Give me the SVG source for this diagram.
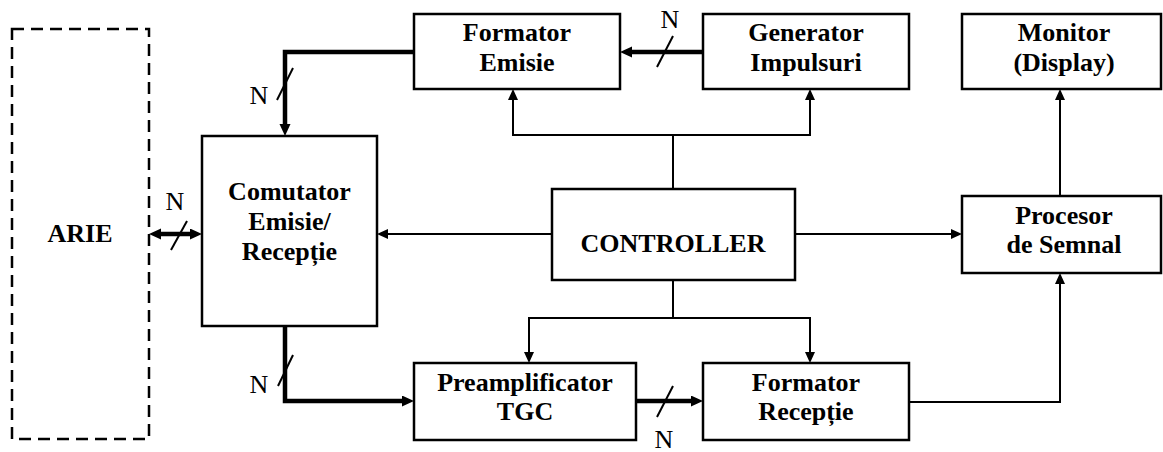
<svg xmlns="http://www.w3.org/2000/svg" width="1163" height="452" viewBox="0 0 1163 452">
  <style>
    .box { fill: #fff; stroke: #000; stroke-width: 2.5; }
    .dash { fill: none; stroke: #000; stroke-width: 2.5; stroke-dasharray: 12 7; }
    .lbl { font-family: "Liberation Serif", "Times New Roman", serif; font-weight: bold; font-size: 26px; text-anchor: middle; fill: #000; }
    .n { font-family: "Liberation Serif", "Times New Roman", serif; font-size: 26px; text-anchor: middle; fill: #000; }
    .bus { fill: none; stroke: #000; stroke-width: 4.5; }
    .wire { fill: none; stroke: #000; stroke-width: 2; }
    .slash { stroke: #000; stroke-width: 2; }
  </style>
  <defs>
    <marker id="ahBus" markerUnits="userSpaceOnUse" markerWidth="13" markerHeight="12" refX="4" refY="5.5" orient="auto-start-reverse">
      <path d="M0,0 L12,5.5 L0,11 z" fill="#000"/>
    </marker>
    <marker id="ahWire" markerUnits="userSpaceOnUse" markerWidth="12" markerHeight="11" refX="3" refY="5" orient="auto-start-reverse">
      <path d="M0,0 L11,5 L0,10 z" fill="#000"/>
    </marker>
  </defs>

  <g id="connectors">
    <!-- N-bit buses -->
    <path class="bus" d="M414,52 H285 V128" marker-end="url(#ahBus)"/>
    <path class="bus" d="M703,52 H628" marker-end="url(#ahBus)"/>
    <path class="bus" d="M157,234 H194" marker-start="url(#ahBus)" marker-end="url(#ahBus)"/>
    <path class="bus" d="M285,326 V401 H406" marker-end="url(#ahBus)"/>
    <path class="bus" d="M636,401 H695" marker-end="url(#ahBus)"/>
    <!-- bus width marks -->
    <line class="slash" x1="293" y1="68" x2="277" y2="100"/>
    <line class="slash" x1="673" y1="36" x2="657" y2="67"/>
    <line class="slash" x1="187" y1="221" x2="171" y2="250"/>
    <line class="slash" x1="293" y1="355" x2="278" y2="386"/>
    <line class="slash" x1="673" y1="386" x2="657" y2="417"/>
    <text class="n" x="259" y="104">N</text>
    <text class="n" x="670" y="28">N</text>
    <text class="n" x="175" y="210">N</text>
    <text class="n" x="259" y="393">N</text>
    <text class="n" x="664" y="448">N</text>
    <!-- control lines -->
    <path class="wire" d="M673,189 V135"/>
    <path class="wire" d="M513,97 V135 H810 V97" marker-start="url(#ahWire)" marker-end="url(#ahWire)"/>
    <path class="wire" d="M552,234 H385" marker-end="url(#ahWire)"/>
    <path class="wire" d="M795,234 H954" marker-end="url(#ahWire)"/>
    <path class="wire" d="M673,280 V318"/>
    <path class="wire" d="M529,355 V318 H810 V355" marker-start="url(#ahWire)" marker-end="url(#ahWire)"/>
    <path class="wire" d="M909,402 H1060 V281" marker-end="url(#ahWire)"/>
    <path class="wire" d="M1060,196 V97" marker-end="url(#ahWire)"/>
  </g>

  <g id="arie">
    <rect class="dash" x="12" y="29" width="137" height="410"/>
    <text class="lbl" x="80" y="242">ARIE</text>
  </g>
  <g id="comutator">
    <rect class="box" x="202" y="136" width="175" height="190"/>
    <text class="lbl" x="289.5" y="200">Comutator</text>
    <text class="lbl" x="289.5" y="230">Emisie/</text>
    <text class="lbl" x="289.5" y="260">Recepție</text>
  </g>
  <g id="formator-emisie">
    <rect class="box" x="414" y="14" width="206" height="75"/>
    <text class="lbl" x="517" y="41">Formator</text>
    <text class="lbl" x="517" y="71">Emisie</text>
  </g>
  <g id="generator">
    <rect class="box" x="703" y="14" width="206" height="75"/>
    <text class="lbl" x="806" y="41">Generator</text>
    <text class="lbl" x="806" y="71">Impulsuri</text>
  </g>
  <g id="monitor">
    <rect class="box" x="962" y="14" width="199" height="75"/>
    <text class="lbl" x="1064" y="41">Monitor</text>
    <text class="lbl" x="1064" y="71">(Display)</text>
  </g>
  <g id="controller">
    <rect class="box" x="552" y="189" width="243" height="91"/>
    <text class="lbl" x="673" y="252">CONTROLLER</text>
  </g>
  <g id="procesor">
    <rect class="box" x="962" y="196" width="199" height="77"/>
    <text class="lbl" x="1064" y="224">Procesor</text>
    <text class="lbl" x="1064" y="253">de Semnal</text>
  </g>
  <g id="preamplificator">
    <rect class="box" x="414" y="363" width="222" height="77"/>
    <text class="lbl" x="525" y="391">Preamplificator</text>
    <text class="lbl" x="525" y="420">TGC</text>
  </g>
  <g id="formator-receptie">
    <rect class="box" x="703" y="363" width="206" height="77"/>
    <text class="lbl" x="806" y="391">Formator</text>
    <text class="lbl" x="806" y="420">Recepție</text>
  </g>
</svg>
